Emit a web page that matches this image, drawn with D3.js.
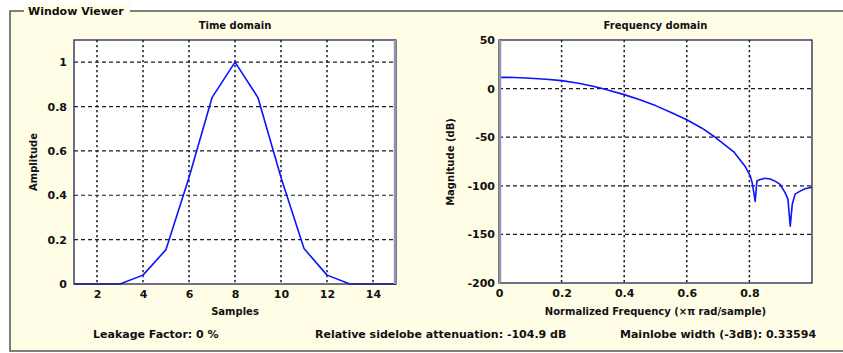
<!DOCTYPE html>
<html><head><meta charset="utf-8">
<script src="https://cdn.jsdelivr.net/npm/d3@7"></script>
<style>
html,body{margin:0;padding:0;background:#fff;}
svg text{font-family:"DejaVu Sans",sans-serif;font-weight:bold;fill:#111;}
</style></head>
<body><svg id="c" width="843" height="353"></svg>
<script>
// ---- data ----
const samples = [1,2,3,4,5,6,7,8,9,10,11,12,13,14,15];
const amplitude = [0,0,0,0.04,0.155,0.48,0.84,1,0.84,0.48,0.16,0.04,0,0,0];

const freq = [0,0.025,0.05,0.1,0.15,0.2,0.25,0.3,0.33,0.35,0.4,0.45,0.5,0.55,0.6,0.65,0.686,0.7,0.75,0.786,0.803,0.809,0.8185,0.824,0.834,0.85,0.866,0.882,0.898,0.914,0.923,0.9305,0.937,0.946,0.962,0.978,1.0];
const magnitude = [11.6,11.6,11.4,10.6,9.6,8.2,5.8,2.5,0,-1.8,-6.2,-11.5,-17.5,-24.5,-32,-41,-49,-52.5,-65,-79.8,-90,-97,-116,-95,-93.5,-92.3,-93,-95.2,-98.6,-107,-113.7,-141.5,-118.9,-108.6,-105.5,-103,-101.4];

const timeXTicks = [2,4,6,8,10,12,14];
const timeYTicks = [0,0.2,0.4,0.6,0.8,1];
const freqXTicks = [0,0.2,0.4,0.6,0.8];
const freqYTicks = [-200,-150,-100,-50,0,50];

const infoTexts = ["Leakage Factor: 0 %","Relative sidelobe attenuation: -104.9 dB","Mainlobe width (-3dB): 0.33594"];

// ---- drawing ----
const svg = d3.select("#c");
const panelBg = "#fffde6";

// group box
svg.append("rect").attr("x",10).attr("y",11).attr("width",850).attr("height",340)
  .attr("fill",panelBg).attr("stroke","#606060").attr("stroke-width",1.6);
svg.append("rect").attr("x",24).attr("y",3).attr("width",106).attr("height",15).attr("fill",panelBg);
svg.append("text").attr("x",28).attr("y",15).attr("font-size",11).text("Window Viewer");

function panel(cfg){
  const g = svg.append("g");
  const x = d3.scaleLinear().domain(cfg.xd).range([cfg.l,cfg.r]);
  const y = d3.scaleLinear().domain(cfg.yd).range([cfg.b,cfg.t]);
  g.append("rect").attr("x",cfg.l).attr("y",cfg.t).attr("width",cfg.r-cfg.l).attr("height",cfg.b-cfg.t).attr("fill","#fff");
  // grid
  g.selectAll(".vg").data(cfg.xt.filter(v=>x(v)>cfg.l+1&&x(v)<cfg.r-1)).join("line")
    .attr("x1",d=>x(d)).attr("x2",d=>x(d)).attr("y1",cfg.t).attr("y2",cfg.b)
    .attr("stroke","#1a1a2a").attr("stroke-width",1.5).attr("stroke-dasharray","2.2,2.8");
  g.selectAll(".hg").data(cfg.yt.filter(v=>y(v)>cfg.t+1&&y(v)<cfg.b-1)).join("line")
    .attr("x1",cfg.l).attr("x2",cfg.r).attr("y1",d=>y(d)).attr("y2",d=>y(d))
    .attr("stroke","#1a1a2a").attr("stroke-width",1.2).attr("stroke-dasharray","4,3");
  // line
  g.append("path").datum(cfg.xs.map((v,i)=>[v,cfg.ys[i]]))
    .attr("d",d3.line().x(d=>x(d[0])).y(d=>y(d[1])))
    .attr("fill","none").attr("stroke","#0a14ff").attr("stroke-width",1.6).attr("stroke-linejoin","round");
  // border
  g.append("rect").attr("x",cfg.l).attr("y",cfg.t).attr("width",cfg.r-cfg.l).attr("height",cfg.b-cfg.t)
    .attr("fill","none").attr("stroke","#23234f").attr("stroke-width",1.3);
  g.append("line").attr("x1",cfg.grayX).attr("x2",cfg.grayX).attr("y1",cfg.t).attr("y2",cfg.b)
    .attr("stroke","#9494ae").attr("stroke-width",2.5);
  // axes
  const xa = g.append("g").attr("transform",`translate(0,${cfg.b})`)
    .call(d3.axisBottom(x).tickValues(cfg.xt).tickSize(0).tickPadding(6).tickFormat(cfg.xf));
  xa.select(".domain").remove();
  xa.selectAll("text").attr("font-size",11).attr("font-family","DejaVu Sans").attr("fill","#111");
  const ya = g.append("g").attr("transform",`translate(${cfg.l},0)`)
    .call(d3.axisLeft(y).tickValues(cfg.yt).tickSize(0).tickPadding(cfg.yp).tickFormat(cfg.yf));
  ya.select(".domain").remove();
  ya.selectAll("text").attr("font-size",11).attr("font-family","DejaVu Sans").attr("fill","#111");
  // labels
  g.append("text").attr("x",(cfg.l+cfg.r)/2).attr("y",29).attr("text-anchor","middle").attr("font-size",10).text(cfg.title);
  g.append("text").attr("x",(cfg.l+cfg.r)/2).attr("y",315).attr("text-anchor","middle").attr("font-size",10).text(cfg.xl);
  g.append("text").attr("transform",`translate(${cfg.ylx},162) rotate(-90)`).attr("text-anchor","middle").attr("font-size",10).text(cfg.yl);
}

panel({l:74,r:396,t:40,b:284,xd:[1,15],yd:[0,1.1],xs:samples,ys:amplitude,
  xt:timeXTicks,yt:timeYTicks,xf:d3.format("d"),yf:d=>String(d),yp:7,grayX:395,
  title:"Time domain",xl:"Samples",yl:"Amplitude",ylx:37});
panel({l:499,r:812,t:40,b:283,xd:[0,1],yd:[-200,50],xs:freq,ys:magnitude,
  xt:freqXTicks,yt:freqYTicks,xf:d=>String(d),yf:d=>String(d),yp:4,grayX:500,
  title:"Frequency domain",xl:"Normalized Frequency  (\u00d7\u03c0 rad/sample)",yl:"Magnitude (dB)",ylx:454});

svg.append("text").attr("x",93).attr("y",338).attr("font-size",11).text(infoTexts[0]);
svg.append("text").attr("x",315).attr("y",338).attr("font-size",11).text(infoTexts[1]);
svg.append("text").attr("x",620).attr("y",338).attr("font-size",11).text(infoTexts[2]);
</script></body></html>
